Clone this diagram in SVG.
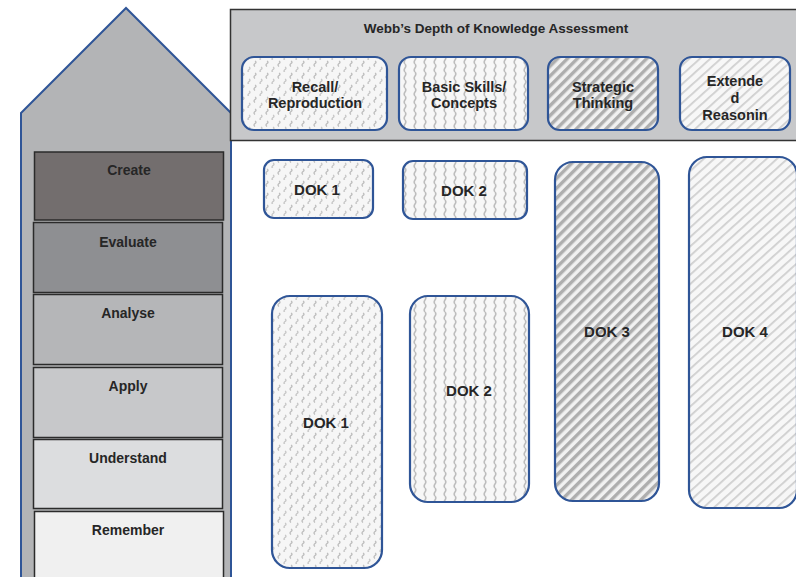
<svg xmlns="http://www.w3.org/2000/svg" width="796" height="577" viewBox="0 0 796 577">
  <style>
    .lbl { font-family: "Liberation Sans", Arial, sans-serif; font-weight: bold; font-size: 14px; fill: #262626; text-anchor: middle; }
    .big { font-size: 15px; }
    .hb { font-size: 14.5px; }
    .bloom { stroke: #2b2b2b; stroke-width: 1.5; }
    .dok { stroke: #2f5597; stroke-width: 2.2; }
  </style>
  <defs>
    <pattern id="squig" width="12" height="12" patternUnits="userSpaceOnUse">
      <rect width="12" height="12" fill="#f6f6f6"/>
      <path d="M3,1 q2,1 0,2.5 q-2,1.5 0,3" fill="none" stroke="#bcbcbc" stroke-width="1.3"/>
      <path d="M9,7 q2,1 0,2.5 q-2,1.5 0,3" fill="none" stroke="#c6c6c6" stroke-width="1.3"/>
    </pattern>
    <pattern id="wavy" width="10" height="8" patternUnits="userSpaceOnUse">
      <rect width="10" height="8" fill="#f7f7f7"/>
      <path d="M5,0 q1.6,2 0,4 q-1.6,2 0,4" fill="none" stroke="#bdbdbd" stroke-width="1.6"/>
    </pattern>
    <pattern id="diag" width="7" height="7" patternUnits="userSpaceOnUse" patternTransform="rotate(45)">
      <rect width="7" height="7" fill="#f1f1f1"/>
      <rect x="0" width="3" height="7" fill="#aeaeae"/>
      <rect x="3" width="0.9" height="7" fill="#d2d2d2"/>
    </pattern>
    <pattern id="thin" width="7" height="7" patternUnits="userSpaceOnUse" patternTransform="rotate(48)">
      <rect width="7" height="7" fill="#f7f7f7"/>
      <rect x="0" width="1.8" height="7" fill="#cfcfcf"/>
    </pattern>
  </defs>

  <rect width="796" height="577" fill="#ffffff"/>

  <g id="house">
    <polygon points="21,113 126,8 231,113 231,600 21,600" fill="#b3b4b6" stroke="#2f5597" stroke-width="2"/>
  </g>

  <g id="bloom-create">
    <rect class="bloom" x="34.5" y="152" width="189" height="68" fill="#736e6e"/>
    <text class="lbl" x="129" y="175">Create</text>
  </g>
  <g id="bloom-evaluate">
    <rect class="bloom" x="33.5" y="222.5" width="189" height="70" fill="#8e8f92"/>
    <text class="lbl" x="128" y="247">Evaluate</text>
  </g>
  <g id="bloom-analyse">
    <rect class="bloom" x="33.5" y="294.5" width="189" height="70" fill="#b5b6b8"/>
    <text class="lbl" x="128" y="318">Analyse</text>
  </g>
  <g id="bloom-apply">
    <rect class="bloom" x="33.5" y="367.5" width="189" height="70" fill="#c7c8ca"/>
    <text class="lbl" x="128" y="391">Apply</text>
  </g>
  <g id="bloom-understand">
    <rect class="bloom" x="33.5" y="439.5" width="189" height="69" fill="#dcdddf"/>
    <text class="lbl" x="128" y="463">Understand</text>
  </g>
  <g id="bloom-remember">
    <rect class="bloom" x="34.5" y="511.5" width="189" height="80" fill="#f0f0f0"/>
    <text class="lbl" x="128" y="535">Remember</text>
  </g>

  <g id="webb-header">
    <rect x="230.5" y="9.5" width="580" height="131" fill="#c7c8ca" stroke="#333333" stroke-width="1.5"/>
    <text class="lbl" x="496" y="33" style="font-size:13.5px">Webb’s Depth of Knowledge Assessment</text>
  </g>

  <g id="hdr-recall">
    <rect class="dok" x="242" y="57" width="145" height="73" rx="12" fill="url(#squig)"/>
    <text class="lbl hb" x="315" y="92">Recall/</text>
    <text class="lbl hb" x="315" y="108">Reproduction</text>
  </g>
  <g id="hdr-basic">
    <rect class="dok" x="399" y="57" width="129" height="73" rx="12" fill="url(#wavy)"/>
    <text class="lbl hb" x="464" y="92">Basic Skills/</text>
    <text class="lbl hb" x="464" y="108">Concepts</text>
  </g>
  <g id="hdr-strategic">
    <rect class="dok" x="548" y="57" width="110" height="73" rx="12" fill="url(#diag)"/>
    <text class="lbl hb" x="603" y="92">Strategic</text>
    <text class="lbl hb" x="603" y="108">Thinking</text>
  </g>
  <g id="hdr-extended">
    <rect class="dok" x="680" y="57" width="110" height="73" rx="12" fill="url(#thin)"/>
    <text class="lbl hb" x="735" y="86">Extende</text>
    <text class="lbl hb" x="735" y="103">d</text>
    <text class="lbl hb" x="735" y="120">Reasonin</text>
  </g>

  <g id="dok1-small">
    <rect class="dok" x="264" y="160" width="109" height="58" rx="10" fill="url(#squig)"/>
    <text class="lbl big" x="317" y="195">DOK 1</text>
  </g>
  <g id="dok2-small">
    <rect class="dok" x="403" y="161" width="124" height="58" rx="10" fill="url(#wavy)"/>
    <text class="lbl big" x="464" y="196">DOK 2</text>
  </g>
  <g id="dok1-large">
    <rect class="dok" x="272" y="296" width="110" height="272" rx="18" fill="url(#squig)"/>
    <text class="lbl big" x="326" y="428">DOK 1</text>
  </g>
  <g id="dok2-large">
    <rect class="dok" x="410" y="296" width="119" height="206" rx="18" fill="url(#wavy)"/>
    <text class="lbl big" x="469" y="396">DOK 2</text>
  </g>
  <g id="dok3">
    <rect class="dok" x="555" y="162" width="104" height="339" rx="18" fill="url(#diag)"/>
    <text class="lbl big" x="607" y="337">DOK 3</text>
  </g>
  <g id="dok4">
    <rect class="dok" x="689" y="157" width="108" height="351" rx="18" fill="url(#thin)"/>
    <text class="lbl big" x="745" y="337">DOK 4</text>
  </g>

  <g id="connectors"/>
</svg>
